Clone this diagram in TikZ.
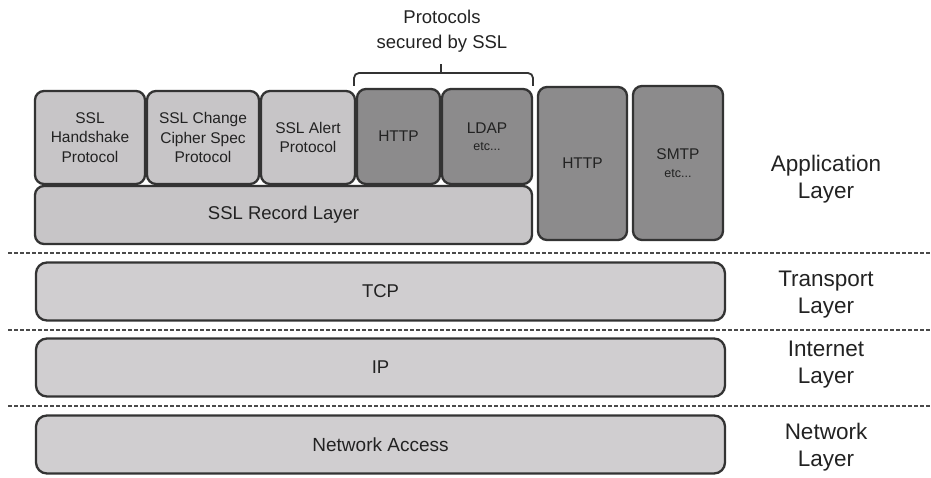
\documentclass[tikz,border=0pt]{standalone}
\usepackage{fontspec}
\setmainfont{Liberation Sans}
\definecolor{bordercol}{HTML}{333333}
\definecolor{lightbox}{HTML}{C7C5C7}
\definecolor{paleBox}{HTML}{D0CED0}
\definecolor{darkbox}{HTML}{8C8B8C}
\definecolor{txt}{HTML}{222222}
\definecolor{dashcol}{HTML}{4A4A4A}
\begin{document}
\begin{tikzpicture}[x=1pt,y=-1pt,
  box/.style={draw=bordercol, line width=2.3pt, rounded corners=9pt, fill=lightbox,
    text=txt, align=center, inner sep=0pt, font=\fontsize{15.5}{19.5}\selectfont},
  darkfill/.style={fill=darkbox},
  wide/.style={box, fill=paleBox, rounded corners=11pt, minimum width=689pt, minimum height=58pt,
    font=\fontsize{18.5}{22}\selectfont},
  layerlabel/.style={text=txt, align=center, inner sep=0pt, font=\fontsize{22.5}{27}\selectfont},
  sep/.style={draw=dashcol, line width=1.8pt, dash pattern=on 4pt off 2pt},
  brace/.style={draw=bordercol, line width=1.8pt, rounded corners=5pt}
]
\useasboundingbox (0,0) rectangle (931,478);

% upper application boxes
\node[box, minimum width=110pt, minimum height=93pt] (hs) at (90,137.5)
  {SSL\\Handshake\\Protocol};
\node[box, minimum width=112pt, minimum height=93pt] (ccs) at (203,137.5)
  {SSL Change\\Cipher Spec\\Protocol};
\node[box, minimum width=94pt, minimum height=93pt] (alert) at (308,137.5)
  {SSL Alert\\Protocol};
\node[box, darkfill, minimum width=83pt, minimum height=95pt] (http1) at (398.5,136.5)
  {HTTP};
\node[box, darkfill, minimum width=90pt, minimum height=95pt] (ldap) at (487,136.5)
  {LDAP\\[-2pt]{\fontsize{12.5}{14}\selectfont etc...}};
\node[box, minimum width=497pt, minimum height=58pt, font=\fontsize{18.5}{22}\selectfont] (rec) at (283.5,215)
  {SSL Record Layer};
\node[box, darkfill, minimum width=89pt, minimum height=153pt] (http2) at (582.5,163.5)
  {HTTP};
\node[box, darkfill, minimum width=90pt, minimum height=154pt] (smtp) at (678,163)
  {SMTP\\[-2pt]{\fontsize{12.5}{14}\selectfont etc...}};

% lower layers
\node[wide] (tcp) at (380.5,291.5) {TCP};
\node[wide] (ip) at (380.5,367.5) {IP};
\node[wide, font=\fontsize{19}{22}\selectfont] (na) at (380.5,444.5) {Network Access};

% separators
\draw[sep] (8,253) -- (931,253);
\draw[sep] (8,330) -- (931,330);
\draw[sep] (8,406) -- (931,406);

% bracket and its label
\draw[brace] (354,86) -- (354,73) -- (533,73) -- (533,86);
\coordinate (btop) at (441,64);
\draw[draw=bordercol, line width=1.8pt] (441,73) -- (btop);
\node[text=txt, align=center, inner sep=0pt, font=\fontsize{18.5}{25}\selectfont] (prot) at (442,31)
  {Protocols\\secured by SSL};

% layer labels
\node[layerlabel] (lapp) at (826,179) {Application\\Layer};
\node[layerlabel] (ltr) at (826,295) {Transport\\Layer};
\node[layerlabel] (lin) at (826,365) {Internet\\Layer};
\node[layerlabel] (lnw) at (826,447) {Network\\Layer};
\end{tikzpicture}
\end{document}
